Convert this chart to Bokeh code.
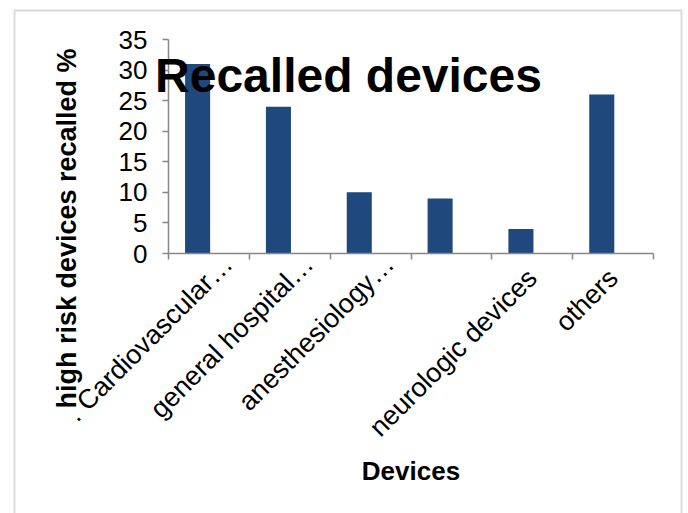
import numpy as np
from math import pi

from bokeh.plotting import figure
from bokeh.models import (ColumnDataSource, Range1d, FixedTicker, LinearAxis,
                          Label, BoxAnnotation)
from bokeh.transform import dodge
from bokeh.embed import file_html
from bokeh.resources import INLINE

# Share of high-risk devices recalled, by device panel
categories = [". Cardiovascular\u2026", "general hospital\u2026", "anesthesiology\u2026",
              "", "neurologic devices", "others"]
recalled_pct = [31, 24, 10, 9, 4, 26]
y_ticks = [0, 5, 10, 15, 20, 25, 30, 35]

n = len(categories)
centers = np.arange(n) + 0.5
source = ColumnDataSource(dict(x=centers, pct=recalled_pct, name=categories))

FONT = "Liberation Sans"
GRAY = "#878787"
BAR = "#1F497D"
LABEL_SIZE = "27px"

# Canvas size and the pixel box that holds the bars
W, H = 688, 513
PLOT_L, PLOT_R, PLOT_T, PLOT_B = 168, 653, 39, 253
px_x = (PLOT_R - PLOT_L) / n
px_y = (PLOT_B - PLOT_T) / (y_ticks[-1] - y_ticks[0])

# The frame fills the whole canvas; axes sit at the data origin so that
# titles and the chart border can be drawn anywhere on the canvas.
x_range = Range1d(-PLOT_L / px_x, (W - PLOT_L) / px_x)
y_range = Range1d(y_ticks[0] - (H - PLOT_B) / px_y, y_ticks[-1] + PLOT_T / px_y)

p = figure(width=W, height=H, x_range=x_range, y_range=y_range,
           output_backend="svg", toolbar_location=None,
           min_border=0, min_border_left=0, min_border_right=0,
           min_border_top=0, min_border_bottom=0)
p.outline_line_color = None
p.xgrid.visible = False
p.ygrid.visible = False
p.background_fill_color = "white"
p.border_fill_color = "white"

p.vbar(x=dodge("x", -0.14), top="pct", bottom=0, width=0.31, source=source,
       fill_color=BAR, line_color=None)

# y axis
yax = p.yaxis[0]
yax.fixed_location = 0
yax.bounds = (y_ticks[0], y_ticks[-1])
yax.ticker = FixedTicker(ticks=y_ticks)
yax.axis_line_color = GRAY
yax.axis_line_width = 1.5
yax.major_tick_line_color = GRAY
yax.major_tick_line_width = 1.5
yax.major_tick_in = 0
yax.major_tick_out = 6
yax.minor_tick_line_color = None
yax.major_label_text_font = FONT
yax.major_label_text_font_size = "26px"
yax.major_label_text_color = "black"
yax.major_label_standoff = 15

# shortened names ("…") are set a little further along their slant
shortened = [name.endswith("\u2026") for name in categories]
full_idx = [i for i, name in enumerate(categories) if name and not shortened[i]]
short_idx = [i for i, s in enumerate(shortened) if s]
SHORT_SHIFT = 19 / px_x

# x axis: ticks on the category boundaries, full names at the centres
xax = p.xaxis[0]
xax.fixed_location = 0
xax.bounds = (0, n)
xax.ticker = FixedTicker(ticks=[float(centers[i]) for i in full_idx],
                         minor_ticks=list(range(n + 1)))
xax.major_label_overrides = {float(centers[i]): categories[i] for i in full_idx}
xax.major_label_orientation = pi / 4
xax.axis_line_color = GRAY
xax.axis_line_width = 1.5
xax.major_tick_line_color = None
xax.major_tick_in = 0
xax.major_tick_out = 6
xax.minor_tick_line_color = GRAY
xax.minor_tick_line_width = 1.5
xax.minor_tick_in = 0
xax.minor_tick_out = 6
xax.major_label_text_font = FONT
xax.major_label_text_font_size = LABEL_SIZE
xax.major_label_text_color = "black"
xax.major_label_standoff = 14
xax.axis_label = "Devices"
xax.axis_label_text_font = FONT
xax.axis_label_text_font_style = "bold"
xax.axis_label_text_font_size = "26px"
xax.axis_label_text_color = "black"
xax.axis_label_standoff = 0

# shortened category names
short_ticks = [float(centers[i] + SHORT_SHIFT) for i in short_idx]
short_axis = LinearAxis(
    fixed_location=0,
    ticker=FixedTicker(ticks=short_ticks, minor_ticks=[]),
    major_label_overrides={t: categories[i] for t, i in zip(short_ticks, short_idx)},
    major_label_orientation=pi / 4,
    axis_line_color=None, major_tick_line_color=None, minor_tick_line_color=None,
    major_tick_in=0, major_tick_out=6,
    major_label_text_font=FONT, major_label_text_font_size=LABEL_SIZE,
    major_label_text_color="black", major_label_standoff=0,
)
p.add_layout(short_axis, "below")

# chart title drawn over the plot area
p.add_layout(Label(x=348, y=H - 75, x_units="screen", y_units="screen",
                   text="Recalled devices", text_align="center",
                   text_baseline="alphabetic", text_font=FONT,
                   text_font_style="bold", text_font_size="48px",
                   text_color="black"))

# vertical axis title
p.add_layout(Label(x=66, y=H - 228, x_units="screen", y_units="screen",
                   text="high risk devices recalled %", angle=pi / 2,
                   text_align="center", text_baseline="middle",
                   text_font=FONT, text_font_style="bold",
                   text_font_size="27px", text_color="black"))

# chart area border
p.add_layout(BoxAnnotation(left=14, right=681, top=H - 10, bottom=-10,
                           left_units="screen", right_units="screen",
                           top_units="screen", bottom_units="screen",
                           fill_alpha=0, fill_color=None,
                           line_color=GRAY, line_width=2))

open("out.html", "w").write(file_html(p, INLINE))
